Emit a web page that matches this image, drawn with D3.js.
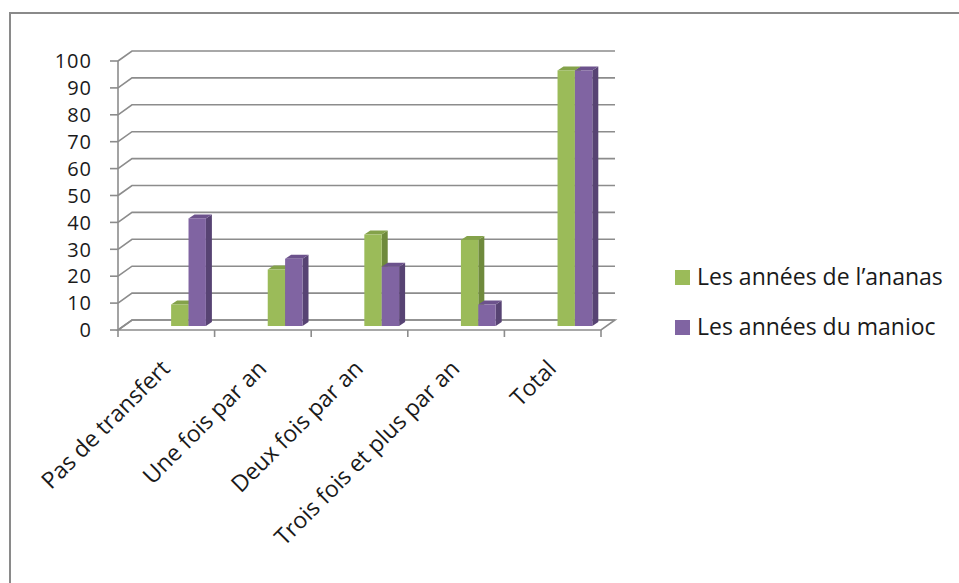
<!DOCTYPE html>
<meta charset="utf-8">
<style>
body { margin: 0; background: #fff; }
svg { font-family: "Open Sans", sans-serif; }
.grid { fill: none; stroke: #8c8c8c; stroke-width: 1.6; }
.axis-label { font-size: 23px; fill: #1a1a1a; }
.y-label { font-size: 20px; letter-spacing: 1px; fill: #1a1a1a; }
.legend-label { font-size: 23px; fill: #1a1a1a; }
</style>
<svg id="chart" width="959" height="583"></svg>
<script src="https://d3js.org/d3.v7.min.js"></script>
<script>

var categories = ["Pas de transfert", "Une fois par an", "Deux fois par an", "Trois fois et plus par an", "Total"];
var seriesNames = ["Les années de l\u2019ananas", "Les années du manioc"];
var ananas = [8, 21, 34, 32, 95];
var manioc = [40, 25, 22, 8, 95];
var yTicks = [0, 10, 20, 30, 40, 50, 60, 70, 80, 90, 100];

var colors = [
  {front: "#9bbb59", top: "#84a24a", side: "#6f8a3c"},
  {front: "#8064a2", top: "#6c528c", side: "#574373"}
];

var svg = d3.select("#chart");

// outer frame
svg.append("rect")
    .attr("x", 10).attr("y", 13)
    .attr("width", 1000).attr("height", 700)
    .attr("fill", "none").attr("stroke", "#8a8a8a").attr("stroke-width", 2);

var x = d3.scaleBand().domain(categories).range([118, 601]);
var y = d3.scaleLinear().domain([0, 100]).range([330, 61]);

// depth of back wall
var backDx = 14, backDy = -10;

// floor
svg.append("path")
    .attr("d", "M" + x.range()[0] + "," + y(0) + "L" + (x.range()[1]) + "," + y(0) +
      "L" + (x.range()[1] + backDx) + "," + (y(0) + backDy) +
      "L" + (x.range()[0] + backDx) + "," + (y(0) + backDy) + "Z")
    .attr("fill", "#fff").attr("stroke", "#8c8c8c").attr("stroke-width", 1.6);

// gridlines on back wall, with diagonal on left wall
svg.append("g").selectAll("path")
    .data(yTicks)
    .enter().append("path")
    .attr("class", "grid")
    .attr("d", function(d) {
      return "M" + x.range()[0] + "," + y(d) +
        "L" + (x.range()[0] + backDx) + "," + (y(d) + backDy) +
        "L" + (x.range()[1] + backDx) + "," + (y(d) + backDy);
    });

// y axis line
svg.append("line")
    .attr("class", "grid")
    .attr("x1", x.range()[0]).attr("x2", x.range()[0])
    .attr("y1", y(0)).attr("y2", y(100));

// y ticks
svg.append("g").selectAll("line")
    .data(yTicks)
    .enter().append("line")
    .attr("class", "grid")
    .attr("x1", x.range()[0] - 8).attr("x2", x.range()[0])
    .attr("y1", function(d) { return y(d); })
    .attr("y2", function(d) { return y(d); });

svg.append("g").selectAll("text")
    .data(yTicks)
    .enter().append("text")
    .attr("class", "y-label")
    .attr("x", 92)
    .attr("y", function(d) { return y(d); })
    .attr("dy", "0.36em")
    .attr("text-anchor", "end")
    .text(function(d) { return d; });

// x axis ticks at band boundaries
var bounds = categories.map(function(c) { return x(c); }).concat([x.range()[1]]);
svg.append("g").selectAll("line")
    .data(bounds)
    .enter().append("line")
    .attr("class", "grid")
    .attr("x1", function(d) { return d; }).attr("x2", function(d) { return d; })
    .attr("y1", y(0)).attr("y2", y(0) + 7);

// bars
var bw = x.bandwidth();
var barW = bw * 0.18, barOff = bw * 0.55;
var depthX = 6, depthY = -4, baseY = y(0) - 4;
var barScale = function(v) { return baseY - (y(0) - y(v)); };

var bars = [];
categories.forEach(function(c, i) {
  [ananas[i], manioc[i]].forEach(function(v, s) {
    bars.push({cat: c, s: s, value: v, x0: x(c) + barOff + s * barW});
  });
});

var barG = svg.append("g").selectAll("g")
    .data(bars)
    .enter().append("g");

barG.append("path")
    .attr("fill", function(d) { return colors[d.s].side; })
    .attr("d", function(d) {
      var x1 = d.x0 + barW, t = barScale(d.value);
      return "M" + x1 + "," + baseY + "L" + (x1 + depthX) + "," + (baseY + depthY) +
        "L" + (x1 + depthX) + "," + (t + depthY) + "L" + x1 + "," + t + "Z";
    });

barG.append("path")
    .attr("fill", function(d) { return colors[d.s].top; })
    .attr("d", function(d) {
      var t = barScale(d.value);
      return "M" + d.x0 + "," + t + "L" + (d.x0 + depthX) + "," + (t + depthY) +
        "L" + (d.x0 + barW + depthX) + "," + (t + depthY) + "L" + (d.x0 + barW) + "," + t + "Z";
    });

barG.append("rect")
    .attr("fill", function(d) { return colors[d.s].front; })
    .attr("x", function(d) { return d.x0; })
    .attr("y", function(d) { return barScale(d.value); })
    .attr("width", barW)
    .attr("height", function(d) { return baseY - barScale(d.value); });

// x labels
svg.append("g").selectAll("text")
    .data(categories)
    .enter().append("text")
    .attr("class", "axis-label")
    .attr("text-anchor", "end")
    .attr("transform", function(d) {
      return "translate(" + (x(d) + bw / 2 + 5) + "," + (y(0) + 40) + ") rotate(-45)";
    })
    .text(function(d) { return d; });

// legend
var legend = svg.append("g").selectAll("g")
    .data(seriesNames)
    .enter().append("g")
    .attr("transform", function(d, i) { return "translate(675," + (270 + i * 50) + ")"; });

legend.append("rect")
    .attr("width", 15).attr("height", 15)
    .attr("fill", function(d, i) { return colors[i].front; });

legend.append("text")
    .attr("class", "legend-label")
    .attr("x", 22).attr("y", 15)
    .text(function(d) { return d; });

</script>
